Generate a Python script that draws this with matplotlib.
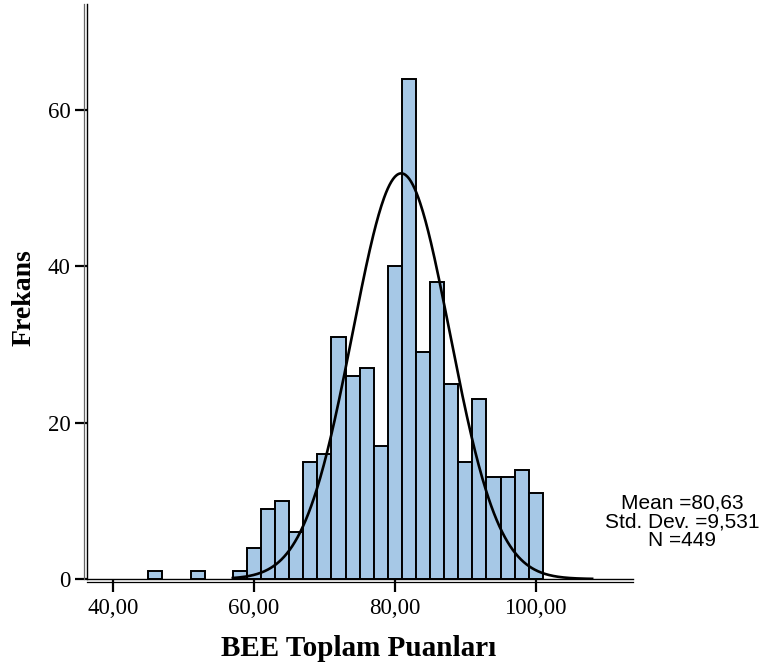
import numpy as np
import matplotlib
matplotlib.use("Agg")
import matplotlib.pyplot as plt
import matplotlib.transforms as mtrans

# histogram of BEE total scores (bins of width 2)
bin_lefts = [45, 51, 57, 59, 61, 63, 65, 67, 69, 71, 73, 75, 77, 79,
             81, 83, 85, 87, 89, 91, 93, 95, 97, 99]
counts = [1, 1, 1, 4, 9, 10, 6, 15, 16, 31, 26, 27, 17, 40,
          64, 29, 38, 25, 15, 23, 13, 13, 14, 11]
bin_width = 2

x_ticks = [40, 60, 80, 100]
x_tick_labels = ["40,00", "60,00", "80,00", "100,00"]
y_ticks = [0, 20, 40, 60]

n_total = 449
mean_label = "80,63"
sd_label = "9,531"
# normal curve as drawn in the original output
curve_mean = 80.9
curve_sd = 6.9

fig = plt.figure(figsize=(7.64, 6.71), dpi=100)
ax = fig.add_axes([87 / 764, 92 / 671, (633 - 87) / 764, (667 - 92) / 671])

ax.bar(bin_lefts, counts, width=bin_width, align="edge",
       color="#a6c8e6", edgecolor="black", linewidth=1.4, zorder=2)

xs = np.linspace(57, 108, 400)
pdf = np.exp(-0.5 * ((xs - curve_mean) / curve_sd) ** 2) / (curve_sd * np.sqrt(2 * np.pi))
ax.plot(xs, n_total * bin_width * pdf, color="black", lw=1.9, zorder=3)

ax.set_xlim(36.3, 113.8)
ax.set_ylim(0, 73.6)

for s in ["top", "right"]:
    ax.spines[s].set_visible(False)
ax.spines["left"].set_linewidth(1.0)
ax.spines["bottom"].set_linewidth(1.0)

# second line of the SPSS-style double frame
tr_l = mtrans.offset_copy(ax.transAxes, fig=fig, x=-3, y=0, units="dots")
ax.plot([0, 0], [0, 1], transform=tr_l, color="#666666", lw=0.9, clip_on=False)
tr_b = mtrans.offset_copy(ax.transAxes, fig=fig, x=0, y=-3, units="dots")
ax.plot([0, 1], [0, 0], transform=tr_b, color="black", lw=0.9, clip_on=False)

ax.set_xticks(x_ticks)
ax.set_xticklabels(x_tick_labels)
ax.set_yticks(y_ticks)
ax.tick_params(axis="both", direction="out", length=9, width=1.6,
               labelsize=16.5, pad=3)
ax.tick_params(axis="x", pad=5)
for lab in ax.get_xticklabels() + ax.get_yticklabels():
    lab.set_family("Liberation Serif")

fig.text(359 / 764, 1 - 648 / 671, "BEE Toplam Puanları", ha="center", va="center",
         fontsize=21, fontweight="bold", family="Liberation Serif")
fig.text(24 / 764, 1 - 298 / 671, "Frekans", ha="center", va="center", rotation=90,
         fontsize=20, fontweight="bold", family="Liberation Serif")

stats = "Mean =%s\nStd. Dev. =%s\nN =%d" % (mean_label, sd_label, n_total)
fig.text(682 / 764, 1 - 522 / 671, stats, ha="center", va="center",
         fontsize=15, family="Liberation Sans", linespacing=1.0)

fig.savefig("out.png", dpi=100)
